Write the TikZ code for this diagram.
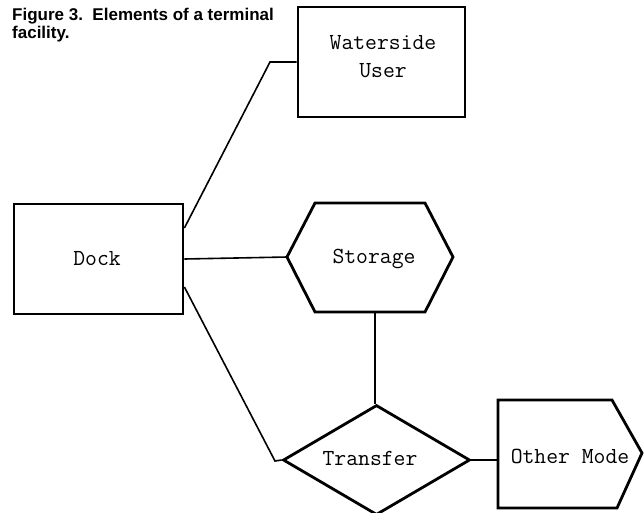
\documentclass[tikz,border=0pt]{standalone}
\usepackage{fontspec}
\newfontfamily\titlefont{Liberation Sans}
\usetikzlibrary{shapes.geometric,calc}
\begin{document}
\begin{tikzpicture}[x=1pt,y=-1pt,
  shapeline/.style={draw=black,line width=2.8pt,line join=miter},
  box/.style={shapeline,rectangle,inner sep=0pt},
  lbl/.style={font=\fontsize{23}{28}\selectfont\ttfamily,inner sep=0pt,align=center},
  conn/.style={draw=black,line width=1.6pt,line join=miter}]
\useasboundingbox (0,0) rectangle (644,512);
% title
\node[anchor=north west,inner sep=0pt,align=left,font=\titlefont\bfseries\fontsize{17}{18.5}\selectfont] (title) at (12,7.5)
  {Figure 3.\ \ Elements of a terminal\\facility.};
% Dock
\node[box,minimum width=169pt,minimum height=110pt] (dock) at (98.5,259) {};
\node[lbl] (docklbl) at (97,259) {Dock};
% Waterside user
\node[box,minimum width=167pt,minimum height=110pt] (water) at (381.5,62) {};
\node[lbl] (waterlbl) at (383,57) {Waterside\\User};
% Storage hexagon
\coordinate (stw) at (287,257);
\coordinate (stb) at (375,312);
\draw[shapeline] (stw) -- (315,203) -- (425,203) -- (453,257) -- (425,312) -- (315,312) -- cycle;
\node[lbl] (storage) at (374,259) {Storage};
% Transfer diamond
\node[shapeline,diamond,minimum width=187pt,minimum height=110pt,inner sep=0pt] (transfer) at (376.5,460) {};
\node[lbl] (transferlbl) at (370,458) {Transfer};
% Other mode
\coordinate (omw) at (498,460);
\draw[shapeline] (498,400) -- (612,400) -- (642,453) -- (617,508) -- (498,508) -- cycle;
\node[lbl] (other) at (570,456) {Other Mode};
% connectors
\coordinate (c1) at (270,62);
\coordinate (c2) at (275,461);
\draw[conn] ([yshift=31pt]dock.east) -- (c1) -- (water.west);
\draw[conn] (dock.east) -- (stw);
\draw[conn] ([yshift=-28pt]dock.east) -- (c2) -- (transfer.west);
\draw[conn] (stb) -- (stb |- transfer.north);
\draw[conn] (transfer.east) -- (omw);
\end{tikzpicture}
\end{document}
